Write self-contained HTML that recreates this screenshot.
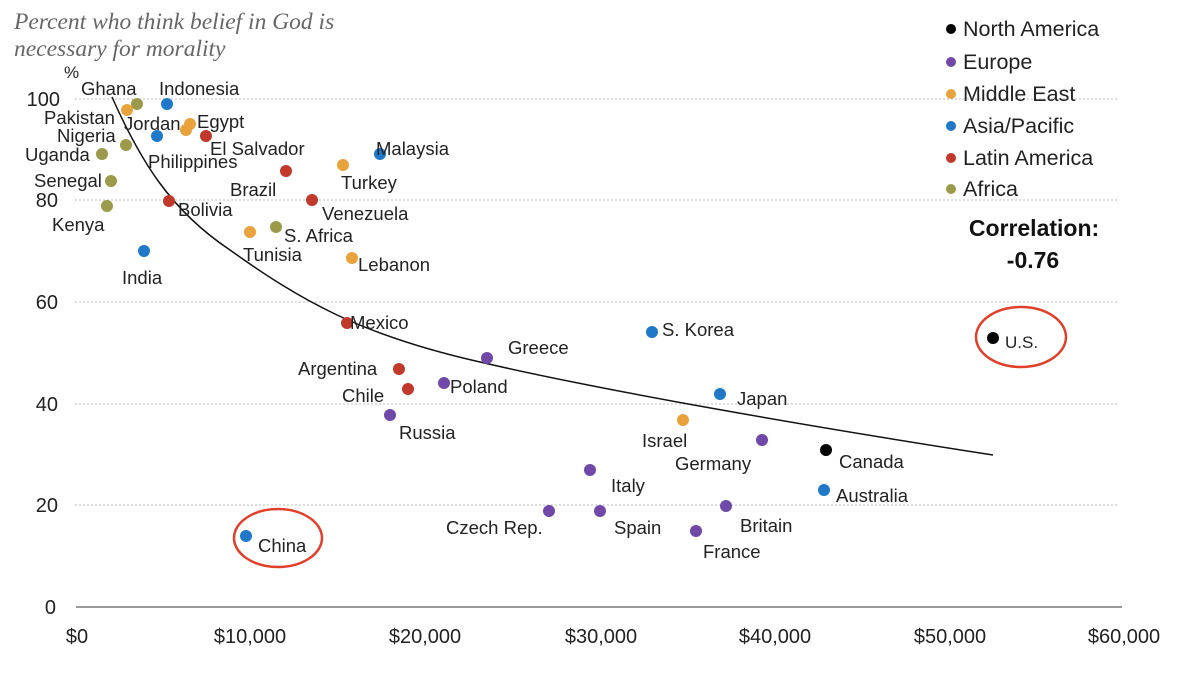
<!DOCTYPE html>
<html><head><meta charset="utf-8"><style>
html,body{margin:0;padding:0;background:#fff;}
svg{display:block;font-family:"Liberation Sans",sans-serif;}
.l{font-size:18.5px;fill:#222;}
.t{font-size:20px;fill:#222;}
</style></head><body>
<svg width="1200" height="675" viewBox="0 0 1200 675">
<text x="14" y="29" font-family="Liberation Serif" font-style="italic" font-size="23.5" fill="#666">Percent who think belief in God is</text>
<text x="14" y="56" font-family="Liberation Serif" font-style="italic" font-size="23.5" fill="#666">necessary for morality</text>
<text x="64" y="78" font-size="17" fill="#222">%</text>
<g stroke="#bbb" stroke-dasharray="2,2" stroke-width="1">
<line x1="75" y1="99" x2="1118" y2="99"/>
<line x1="75" y1="200" x2="1118" y2="200"/>
<line x1="75" y1="302" x2="1118" y2="302"/>
<line x1="75" y1="404" x2="1118" y2="404"/>
<line x1="75" y1="505" x2="1118" y2="505"/>
</g>
<line x1="76" y1="607" x2="1122" y2="607" stroke="#999" stroke-width="2"/>
<g class="t" text-anchor="end">
<text x="60" y="106">100</text><text x="58" y="207">80</text><text x="58" y="309">60</text>
<text x="58" y="411">40</text><text x="58" y="512">20</text><text x="56" y="614">0</text>
</g>
<g class="t" text-anchor="middle" font-size="21">
<text x="77" y="643">$0</text><text x="250" y="643">$10,000</text><text x="425" y="643">$20,000</text>
<text x="601" y="643">$30,000</text><text x="775" y="643">$40,000</text><text x="950" y="643">$50,000</text>
<text x="1124" y="643">$60,000</text>
</g>
<path d="M112,97 C140,160 170,210 230,250 C300,300 360,335 480,362 C600,390 800,425 993,455" fill="none" stroke="#111" stroke-width="1.5"/>
<g>
<circle cx="137" cy="104" r="6" fill="#9a9a4a"/>
<circle cx="127" cy="110" r="6" fill="#e8a33c"/>
<circle cx="167" cy="104" r="6" fill="#1f78c8"/>
<circle cx="190" cy="124" r="6" fill="#e8a33c"/>
<circle cx="186" cy="130" r="6" fill="#e8a33c"/>
<circle cx="157" cy="136" r="6" fill="#1f78c8"/>
<circle cx="206" cy="136" r="6" fill="#c0392b"/>
<circle cx="126" cy="145" r="6" fill="#9a9a4a"/>
<circle cx="102" cy="154" r="6" fill="#9a9a4a"/>
<circle cx="111" cy="181" r="6" fill="#9a9a4a"/>
<circle cx="107" cy="206" r="6" fill="#9a9a4a"/>
<circle cx="169" cy="201" r="6" fill="#c0392b"/>
<circle cx="144" cy="251" r="6" fill="#1f78c8"/>
<circle cx="286" cy="171" r="6" fill="#c0392b"/>
<circle cx="312" cy="200" r="6" fill="#c0392b"/>
<circle cx="343" cy="165" r="6" fill="#e8a33c"/>
<circle cx="380" cy="154" r="6" fill="#1f78c8"/>
<circle cx="250" cy="232" r="6" fill="#e8a33c"/>
<circle cx="276" cy="227" r="6" fill="#9a9a4a"/>
<circle cx="352" cy="258" r="6" fill="#e8a33c"/>
<circle cx="347" cy="323" r="6" fill="#c0392b"/>
<circle cx="487" cy="358" r="6" fill="#7048a8"/>
<circle cx="399" cy="369" r="6" fill="#c0392b"/>
<circle cx="444" cy="383" r="6" fill="#7048a8"/>
<circle cx="408" cy="389" r="6" fill="#c0392b"/>
<circle cx="390" cy="415" r="6" fill="#7048a8"/>
<circle cx="652" cy="332" r="6" fill="#1f78c8"/>
<circle cx="993" cy="338" r="6" fill="#000"/>
<circle cx="720" cy="394" r="6" fill="#1f78c8"/>
<circle cx="683" cy="420" r="6" fill="#e8a33c"/>
<circle cx="762" cy="440" r="6" fill="#7048a8"/>
<circle cx="826" cy="450" r="6" fill="#000"/>
<circle cx="590" cy="470" r="6" fill="#7048a8"/>
<circle cx="824" cy="490" r="6" fill="#1f78c8"/>
<circle cx="549" cy="511" r="6" fill="#7048a8"/>
<circle cx="600" cy="511" r="6" fill="#7048a8"/>
<circle cx="726" cy="506" r="6" fill="#7048a8"/>
<circle cx="696" cy="531" r="6" fill="#7048a8"/>
<circle cx="246" cy="536" r="6" fill="#1f78c8"/>
</g>
<g class="l">
<text x="81" y="95">Ghana</text><text x="159" y="95">Indonesia</text>
<text x="44" y="124">Pakistan</text><text x="124" y="130">Jordan</text><text x="197" y="128">Egypt</text>
<text x="57" y="142">Nigeria</text><text x="210" y="155">El Salvador</text><text x="148" y="168">Philippines</text>
<text x="25" y="161">Uganda</text><text x="34" y="187">Senegal</text><text x="52" y="231">Kenya</text>
<text x="178" y="216">Bolivia</text><text x="122" y="284">India</text>
<text x="230" y="196">Brazil</text><text x="322" y="220">Venezuela</text><text x="341" y="189">Turkey</text>
<text x="376" y="155">Malaysia</text>
<text x="243" y="261">Tunisia</text><text x="284" y="242">S. Africa</text><text x="358" y="271">Lebanon</text>
<text x="350" y="329">Mexico</text><text x="508" y="354">Greece</text>
<text x="298" y="375">Argentina</text><text x="450" y="393">Poland</text><text x="342" y="402">Chile</text>
<text x="399" y="439">Russia</text><text x="662" y="336">S. Korea</text><text x="1005" y="348" font-size="17">U.S.</text>
<text x="737" y="405">Japan</text><text x="642" y="447">Israel</text><text x="675" y="470">Germany</text>
<text x="839" y="468">Canada</text><text x="611" y="492">Italy</text><text x="836" y="502">Australia</text>
<text x="446" y="534">Czech Rep.</text><text x="614" y="534">Spain</text><text x="740" y="532">Britain</text>
<text x="703" y="558">France</text><text x="258" y="552">China</text>
</g>
<ellipse cx="1021" cy="337" rx="45" ry="30" fill="none" stroke="#e0402a" stroke-width="2.5"/>
<ellipse cx="278" cy="538" rx="44" ry="29" fill="none" stroke="#e0402a" stroke-width="2.5"/>
<g font-size="21.5" fill="#222">
<circle cx="951" cy="29" r="5" fill="#000"/><text x="963" y="36">North America</text>
<circle cx="951" cy="62" r="5" fill="#7048a8"/><text x="963" y="69">Europe</text>
<circle cx="951" cy="94" r="5" fill="#e8a33c"/><text x="963" y="101">Middle East</text>
<circle cx="951" cy="126" r="5" fill="#1f78c8"/><text x="963" y="133">Asia/Pacific</text>
<circle cx="951" cy="158" r="5" fill="#c0392b"/><text x="963" y="165">Latin America</text>
<circle cx="951" cy="189" r="5" fill="#9a9a4a"/><text x="963" y="196">Africa</text>
</g>
<text x="1034" y="236" font-size="23" font-weight="bold" text-anchor="middle" fill="#111">Correlation:</text>
<text x="1033" y="268" font-size="23" font-weight="bold" text-anchor="middle" fill="#111">-0.76</text>
</svg>
</body></html>
